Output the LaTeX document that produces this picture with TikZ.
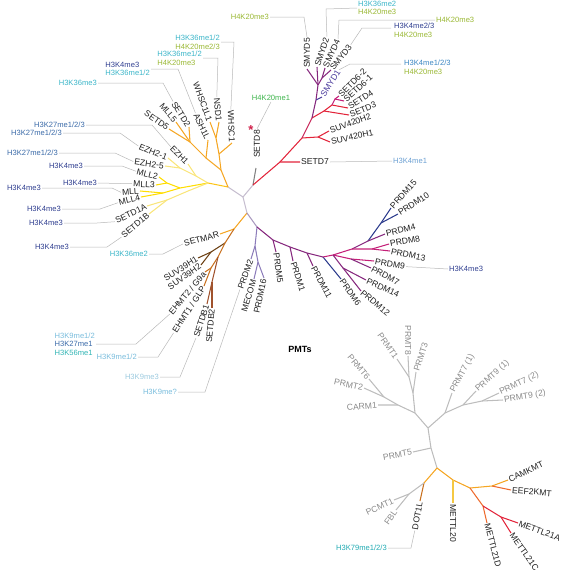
\documentclass[tikz,border=0pt]{standalone}
\usepackage{fontspec}
\setmainfont{Liberation Sans}
\definecolor{rootc}{HTML}{C6BECF}
\definecolor{orng}{HTML}{F5A623}
\definecolor{yor}{HTML}{FCC419}
\definecolor{yel}{HTML}{FFDD00}
\definecolor{lyel}{HTML}{F9E57A}
\definecolor{brn}{HTML}{6B3F12}
\definecolor{dorng}{HTML}{C8701E}
\definecolor{sienna}{HTML}{A0522D}
\definecolor{redc}{HTML}{E2243A}
\definecolor{crim}{HTML}{C8285A}
\definecolor{purp}{HTML}{86287E}
\definecolor{mag}{HTML}{C42078}
\definecolor{navy}{HTML}{2B3A8C}
\definecolor{lav}{HTML}{8C7CBA}
\definecolor{pgl}{HTML}{A898BE}
\definecolor{pgray}{HTML}{BDBDBD}
\definecolor{ltxt}{HTML}{8A8A8A}
\definecolor{ldc}{HTML}{B8B8B8}
\definecolor{mttl}{HTML}{F5C842}
\definecolor{orred}{HTML}{EE6A2C}
\definecolor{kfour}{HTML}{2E3D8F}
\definecolor{ktwsev}{HTML}{3A6AA8}
\definecolor{kthsix}{HTML}{3AB5C8}
\definecolor{ktwenty}{HTML}{9AB834}
\definecolor{knine}{HTML}{78BCDC}
\definecolor{kninec}{HTML}{9CCADF}
\definecolor{kfsix}{HTML}{30B4B4}
\definecolor{ksevnine}{HTML}{20AAB2}
\definecolor{kfourone}{HTML}{6A9FD2}
\definecolor{kfourall}{HTML}{3A86C2}
\definecolor{kmeone}{HTML}{3CB44A}
\definecolor{smydc}{HTML}{4A3A9C}
\definecolor{starc}{HTML}{D0204A}
\begin{document}
\begin{tikzpicture}[x=1pt,y=-1pt,
  leaf/.style={font=\fontsize{8.6}{10}\selectfont, inner sep=1pt, text=black!88},
  gleaf/.style={leaf, text=ltxt},
  ann/.style={font=\fontsize{7.6}{8.6}\selectfont, inner sep=1pt, align=left},
  br/.style={line width=1.05pt},
  ld/.style={draw=ldc, line width=0.5pt}]
\useasboundingbox (0,0) rectangle (567,574);

% ---------- backbone
\coordinate (R) at (243,197);
\coordinate (A) at (228,187);
\coordinate (B) at (253,185);
\coordinate (C) at (247,213);
\draw[br,rootc] (A) -- (R) -- (B);
\draw[br,rootc] (R) -- (C);

% ---------- yellow clade
\coordinate (Y1) at (208,183);
\coordinate (E0) at (196,176);
\coordinate (E1) at (180,168);
\coordinate (M0) at (180,188);
\coordinate (M1) at (167,183);
\coordinate (M2) at (163,193);
\coordinate (S0) at (188,191);
\coordinate (S1) at (167,200);
\coordinate (lEZHa) at (188,164);
\coordinate (lEZHb) at (168,158);
\coordinate (lEZHc) at (165,166);
\coordinate (lMLLb) at (159,177);
\coordinate (lMLLc) at (156,185);
\coordinate (lMLL) at (140,191);
\coordinate (lMLLd) at (141,197);
\coordinate (lSDa) at (147,206);
\coordinate (lSDb) at (149,214);
\draw[br,yor] (A) -- (Y1);
\draw[br,lyel] (Y1) -- (E0) -- (lEZHa);
\draw[br,lyel] (E0) -- (E1) -- (lEZHb);
\draw[br,lyel] (E1) -- (lEZHc);
\draw[br,yel] (Y1) -- (M0) -- (M1) -- (lMLLb);
\draw[br,yel] (M1) -- (lMLLc);
\draw[br,yel] (M0) -- (M2) -- (lMLL);
\draw[br,yel] (M2) -- (lMLLd);
\draw[br,lyel] (Y1) -- (S0) -- (S1) -- (lSDa);
\draw[br,lyel] (S1) -- (lSDb);

% ---------- orange clade
\coordinate (O0) at (221,170);
\coordinate (O1) at (219,154);
\coordinate (N0) at (216,138);
\coordinate (S2) at (206,158);
\coordinate (S3) at (190,142);
\coordinate (lWHSC) at (232,143);
\coordinate (lNSD) at (219,122);
\coordinate (lWHSCL) at (210,122);
\coordinate (lASH) at (208,140);
\coordinate (lSETDb) at (189,127);
\coordinate (lMLLe) at (176,122);
\coordinate (lSETDe) at (169,129);
\draw[br,orng] (A) -- (O0) -- (O1) -- (N0) -- (lNSD);
\draw[br,orng] (N0) -- (lWHSCL);
\draw[br,orng] (O1) -- (lWHSC);
\draw[br,orng] (O0) -- (S2) -- (lASH);
\draw[br,orng] (S2) -- (S3) -- (lSETDb);
\draw[br,orng] (S3) -- (lMLLe);
\draw[br,orng] (S3) -- (lSETDe);

% labels upper-left
\node[leaf,rotate=-45,anchor=east] (nEZHa) at (lEZHa) {EZH1};
\node[leaf,rotate=-22,anchor=east] (nEZHb) at (lEZHb) {EZH2-1};
\node[leaf,rotate=-8,anchor=east] (nEZHc) at (lEZHc) {EZH2-5};
\node[leaf,rotate=-14,anchor=east] (nMLLb) at (lMLLb) {MLL2};
\node[leaf,rotate=-3,anchor=east] (nMLLc) at (lMLLc) {MLL3};
\node[leaf,rotate=4,anchor=east] (nMLL) at (lMLL) {MLL};
\node[leaf,rotate=14,anchor=east] (nMLLd) at (lMLLd) {MLL4};
\node[leaf,rotate=26,anchor=east] (nSDa) at (lSDa) {SETD1A};
\node[leaf,rotate=40,anchor=east] (nSDb) at (lSDb) {SETD1B};
\node[leaf,rotate=-88,anchor=east] (nWHSC) at (lWHSC) {WHSC1};
\node[leaf,rotate=-85,anchor=east] (nNSD) at (lNSD) {NSD1};
\node[leaf,rotate=-70,anchor=east] (nWHSCL) at (lWHSCL) {WHSC1L1};
\node[leaf,rotate=-65,anchor=east] (nASH) at (lASH) {ASH1L};
\node[leaf,rotate=-58,anchor=east] (nSETDb) at (lSETDb) {SETD2};
\node[leaf,rotate=-50,anchor=east] (nMLLe) at (lMLLe) {MLL5};
\node[leaf,rotate=-35,anchor=east] (nSETDe) at (lSETDe) {SETD5};

% annotations upper-left
\node[ann,anchor=east] (aWHSC) at (221,42) {\textcolor{kthsix}{H3K36me1/2}\\\textcolor{ktwenty}{H4K20me2/3}};
\draw[ld] (nWHSC.west) -- (234,42) -- (aWHSC.east);
\node[ann,anchor=east] (aNSD) at (203,58) {\textcolor{kthsix}{H3K36me1/2}\\\textcolor{ktwenty}{H4K20me3}};
\draw[ld] (nNSD.west) -- (218,58) -- (aNSD.east);
\node[ann,anchor=east] (aASH) at (151,69) {\textcolor{kfour}{H3K4me3}\\\textcolor{kthsix}{H3K36me1/2}};
\draw[ld] (nASH.west) -- (178,69) -- (aASH.east);
\node[ann,anchor=east,text=kthsix] (aSETDb) at (98,83) {H3K36me3};
\draw[ld] (nSETDb.west) -- (163,83) -- (aSETDb.east);
\node[ann,anchor=east,text=ktwsev] (aEZHa) at (86,125) {H3K27me1/2/3};
\draw[ld] (nEZHa.west) -- (152,125) -- (aEZHa.east);
\node[ann,anchor=east,text=ktwsev] (aEZHb) at (63,133) {H3K27me1/2/3};
\draw[ld] (nEZHb.west) -- (120,133) -- (aEZHb.east);
\node[ann,anchor=east,text=ktwsev] (aEZHc) at (59,153) {H3K27me1/2/3};
\draw[ld] (nEZHc.west) -- (115,153) -- (aEZHc.east);
\node[ann,anchor=east,text=kfour] (aMLLb) at (84,166) {H3K4me3};
\draw[ld] (nMLLb.west) -- (122,166) -- (aMLLb.east);
\node[ann,anchor=east,text=kfour] (aMLLc) at (98,183) {H3K4me3};
\draw[ld] (nMLLc.west) -- (aMLLc.east);
\node[ann,anchor=east,text=kfour] (aMLL) at (42,188) {H3K4me3};
\draw[ld] (nMLL.west) -- (112,188) -- (aMLL.east);
\node[ann,anchor=east,text=kfour] (aMLLd) at (62,209) {H3K4me3};
\draw[ld] (nMLLd.west) -- (100,209) -- (aMLLd.east);
\node[ann,anchor=east,text=kfour] (aSDa) at (64,223) {H3K4me3};
\draw[ld] (nSDa.west) -- (97,223) -- (aSDa.east);
\node[ann,anchor=east,text=kfour] (aSDb) at (70,247) {H3K4me3};
\draw[ld] (nSDb.west) -- (107,247) -- (aSDb.east);

% ---------- lower-left orange / brown clade
\coordinate (K1) at (234,229);
\coordinate (K2) at (225,243);
\coordinate (K3) at (211,252);
\coordinate (K4) at (218,257);
\coordinate (K5) at (211,268);
\coordinate (K6) at (212,282);
\coordinate (lSETMAR) at (220,234);
\coordinate (lSUVa) at (198,258);
\coordinate (lSUVb) at (201,265);
\coordinate (lEHa) at (205,272);
\coordinate (lEHb) at (204,286);
\coordinate (lSDBa) at (207,304);
\coordinate (lSDBb) at (212,308);
\draw[br,orng] (C) -- (K1) -- (lSETMAR);
\draw[br,dorng] (K1) -- (K2);
\draw[br,brn] (K2) -- (K3) -- (lSUVa);
\draw[br,brn] (K3) -- (lSUVb);
\draw[br,dorng] (K2) -- (K4) -- (K5) -- (lEHa);
\draw[br,dorng] (K5) -- (lEHb);
\draw[br,sienna] (K4) -- (K6) -- (lSDBa);
\draw[br,sienna] (K6) -- (lSDBb);
\node[leaf,rotate=15,anchor=east] (nSETMAR) at (lSETMAR) {SETMAR};
\node[leaf,rotate=32,anchor=east] (nSUVa) at (lSUVa) {SUV39H1};
\node[leaf,rotate=35,anchor=east] (nSUVb) at (lSUVb) {SUV39H2};
\node[leaf,rotate=50,anchor=east] (nEHa) at (lEHa) {EHMT2 / G9a};
\node[leaf,rotate=57,anchor=east] (nEHb) at (lEHb) {EHMT1 / GLP};
\node[leaf,rotate=72,anchor=east] (nSDBa) at (lSDBa) {SETDB1};
\node[leaf,rotate=85,anchor=east] (nSDBb) at (lSDBb) {SETDB2};
\node[ann,anchor=east,text=kthsix] (aSETMAR) at (149,254) {H3K36me2};
\draw[ld] (nSETMAR.west) -- (163,254) -- (aSETMAR.east);
\node[ann,anchor=east] (aEHa) at (96,344) {\textcolor{knine}{H3K9me1/2}\\\textcolor{ktwsev}{H3K27me1}\\\textcolor{kfsix}{H3K56me1}};
\draw[ld] (nEHa.west) -- (136,344) -- (aEHa.east);
\node[ann,anchor=east,text=knine] (aEHb) at (138,357) {H3K9me1/2};
\draw[ld] (nEHb.west) -- (158,357) -- (aEHb.east);
\node[ann,anchor=east,text=kninec] (aSDBa) at (160,377) {H3K9me3};
\draw[ld] (nSDBa.west) -- (180,377) -- (aSDBa.east);

% ---------- PRDM clade
\coordinate (P0) at (257,227);
\coordinate (PL) at (255,246);
\coordinate (PM) at (258,262);
\coordinate (Pa) at (273,240);
\coordinate (Pb) at (290,247);
\coordinate (Pc) at (307,253);
\coordinate (Pd) at (323,257);
\coordinate (Q0) at (333,255);
\coordinate (Q1) at (352,249);
\coordinate (Q2) at (368,241);
\coordinate (Q3) at (381,223);
\coordinate (Q4) at (372,249);
\coordinate (Q5) at (351,259);
\coordinate (Q6) at (343,268);
\coordinate (lPRa) at (251,259);
\coordinate (lMECOM) at (254,279);
\coordinate (lPRp) at (264,278);
\coordinate (lPRe) at (276,252);
\coordinate (lPRb) at (293,261);
\coordinate (lPRk) at (313,266);
\coordinate (lPRf) at (341,279);
\coordinate (lPRo) at (391,208);
\coordinate (lPRj) at (398,214);
\coordinate (lPRd) at (385,234);
\coordinate (lPRh) at (389,244);
\coordinate (lPRm) at (390,251);
\coordinate (lPRi) at (374,261);
\coordinate (lPRg) at (371,268);
\coordinate (lPRn) at (366,280);
\coordinate (lPRl) at (361,291);
\draw[br,pgl] (C) -- (P0);
\draw[br,lav] (P0) -- (PL) -- (lPRa);
\draw[br,lav] (PL) -- (PM) -- (lMECOM);
\draw[br,lav] (PM) -- (lPRp);
\draw[br,purp] (P0) -- (Pa) -- (Pb) -- (Pc) -- (Pd);
\draw[br,purp] (Pa) -- (lPRe);
\draw[br,purp] (Pb) -- (lPRb);
\draw[br,purp] (Pc) -- (lPRk);
\draw[br,navy] (Pd) -- (lPRf);
\draw[br,mag] (Pd) -- (Q0) -- (Q1);
\draw[br,purp] (Q1) -- (Q2);
\draw[br,navy] (Q2) -- (Q3) -- (lPRo);
\draw[br,navy] (Q3) -- (lPRj);
\draw[br,purp] (Q2) -- (lPRd);
\draw[br,mag] (Q1) -- (Q4) -- (lPRh);
\draw[br,mag] (Q4) -- (lPRm);
\draw[br,mag] (Q0) -- (Q5) -- (lPRi);
\draw[br,purp] (Q5) -- (lPRg);
\draw[br,purp] (Q0) -- (Q6) -- (lPRn);
\draw[br,purp] (Q6) -- (lPRl);
\node[leaf,rotate=70,anchor=east] (nPRa) at (lPRa) {PRDM2};
\node[leaf,rotate=73,anchor=east] (nMECOM) at (lMECOM) {MECOM};
\node[leaf,rotate=78,anchor=east] (nPRp) at (lPRp) {PRDM16};
\node[leaf,rotate=-82,anchor=west] (nPRe) at (lPRe) {PRDM5};
\node[leaf,rotate=-72,anchor=west] (nPRb) at (lPRb) {PRDM1};
\node[leaf,rotate=-62,anchor=west] (nPRk) at (lPRk) {PRDM11};
\node[leaf,rotate=-55,anchor=west] (nPRf) at (lPRf) {PRDM6};
\node[leaf,rotate=-40,anchor=west] (nPRl) at (lPRl) {PRDM12};
\node[leaf,rotate=-25,anchor=west] (nPRn) at (lPRn) {PRDM14};
\node[leaf,rotate=-28,anchor=west] (nPRg) at (lPRg) {PRDM7};
\node[leaf,rotate=-10,anchor=west] (nPRi) at (lPRi) {PRDM9};
\node[leaf,rotate=-12,anchor=west] (nPRm) at (lPRm) {PRDM13};
\node[leaf,rotate=10,anchor=west] (nPRh) at (lPRh) {PRDM8};
\node[leaf,rotate=14,anchor=west] (nPRd) at (lPRd) {PRDM4};
\node[leaf,rotate=33,anchor=west] (nPRj) at (lPRj) {PRDM10};
\node[leaf,rotate=48,anchor=west] (nPRo) at (lPRo) {PRDM15};
\node[ann,anchor=west,text=kfour] (aPRi) at (448,269) {H3K4me3};
\draw[ld] (nPRi.east) -- (aPRi.west);
\node[ann,anchor=east,text=knine] (aPRa) at (178,392) {H3K9me?};
\draw[ld] (nPRa.west) -- (205,392) -- (aPRa.east);

% ---------- SET (red) clade
\coordinate (r1) at (280,162);
\coordinate (r2) at (302,138);
\coordinate (s4) at (318,137);
\coordinate (r3) at (312,118);
\coordinate (t0) at (324,111);
\coordinate (t1) at (332,105);
\coordinate (t2) at (335,99);
\coordinate (u0) at (316,100);
\coordinate (u1) at (318,85);
\coordinate (u2) at (322,78);
\coordinate (lSETDh) at (256,168);
\coordinate (lSETDg) at (300,162);
\coordinate (lSUVc) at (329,131);
\coordinate (lSUVd) at (330,142);
\coordinate (lSDc) at (349,115);
\coordinate (lSDd) at (348,108);
\coordinate (lSDfa) at (344,101);
\coordinate (lSDfb) at (339,96);
\coordinate (lSMa) at (322,97);
\coordinate (lSMe) at (307,69);
\coordinate (lSMb) at (317,67);
\coordinate (lSMd) at (325,68);
\coordinate (lSMc) at (331,70);
\draw[br,gray] (B) -- (lSETDh);
\draw[br,redc] (B) -- (r1) -- (lSETDg);
\draw[br,redc] (r1) -- (r2) -- (s4) -- (lSUVc);
\draw[br,redc] (s4) -- (lSUVd);
\draw[br,crim] (r2) -- (r3);
\draw[br,redc] (r3) -- (t0) -- (lSDc);
\draw[br,redc] (t0) -- (t1) -- (lSDd);
\draw[br,mag] (t1) -- (t2) -- (lSDfa);
\draw[br,mag] (t2) -- (lSDfb);
\draw[br,purp] (r3) -- (u0) -- (u1) -- (u2) -- (lSMd);
\draw[br,smydc] (u0) -- (lSMa);
\draw[br,purp] (u1) -- (lSMe);
\draw[br,purp] (u1) -- (lSMb);
\draw[br,purp] (u2) -- (lSMc);
\node[leaf,rotate=90,anchor=west] (nSETDh) at (257,159) {SETD8};
\node[text=starc,font=\fontsize{13}{13}\selectfont\bfseries,inner sep=0pt] (star) at (251,130) {*};
\node[ann,text=kmeone,inner sep=1pt] (aSETDh) at (271,98) {H4K20me1};
\draw[ld] (nSETDh.east) -- (aSETDh.south);
\node[leaf,anchor=west] (nSETDg) at (lSETDg) {SETD7};
\node[ann,anchor=west,text=kfourone] (aSETDg) at (392,161) {H3K4me1};
\draw[ld] (nSETDg.east) -- (aSETDg.west);
\node[leaf,rotate=20,anchor=west] (nSUVc) at (lSUVc) {SUV420H2};
\node[leaf,rotate=12,anchor=west] (nSUVd) at (lSUVd) {SUV420H1};
\node[leaf,rotate=22,anchor=west] (nSDc) at (lSDc) {SETD3};
\node[leaf,rotate=33,anchor=west] (nSDd) at (lSDd) {SETD4};
\node[leaf,rotate=42,anchor=west] (nSDfa) at (lSDfa) {SETD6-1};
\node[leaf,rotate=45,anchor=west] (nSDfb) at (lSDfb) {SETD6-2};
\node[leaf,rotate=58,anchor=west,text=smydc] (nSMa) at (lSMa) {SMYD1};
\node[leaf,rotate=90,anchor=west] (nSMe) at (lSMe) {SMYD5};
\node[leaf,rotate=72,anchor=west] (nSMb) at (lSMb) {SMYD2};
\node[leaf,rotate=66,anchor=west] (nSMd) at (lSMd) {SMYD4};
\node[leaf,rotate=52,anchor=west] (nSMc) at (lSMc) {SMYD3};
\node[ann,anchor=east,text=ktwenty] (aSMe) at (270,17) {H4K20me3};
\draw[ld] (nSMe.east) -- (304,17) -- (aSMe.east);
\node[ann,anchor=west] (aSMb) at (357,8) {\textcolor{kthsix}{H3K36me2}\\\textcolor{ktwenty}{H4K20me3}};
\draw[ld] (nSMb.east) -- (326,9) -- (aSMb.west);
\node[ann,anchor=west,text=ktwenty] (aSMd) at (435,20) {H4K20me3};
\draw[ld] (nSMd.east) -- (339,20) -- (aSMd.west);
\node[ann,anchor=west] (aSMc) at (393,30) {\textcolor{kfour}{H3K4me2/3}\\\textcolor{ktwenty}{H4K20me3}};
\draw[ld] (nSMc.east) -- (362,28) -- (391,28);
\node[ann,anchor=west] (aSMa) at (403,67) {\textcolor{kfourall}{H3K4me1/2/3}\\\textcolor{ktwenty}{H4K20me3}};
\draw[ld] (nSMa.east) -- (350,64) -- (401,64);

% ---------- PMTs (gray)
\node[font=\fontsize{9}{10}\selectfont\bfseries] (pmt) at (300,349) {PMTs};
\coordinate (T0) at (437,468);
\coordinate (g1) at (431,448);
\coordinate (G1) at (428,428);
\coordinate (GL) at (415,413);
\coordinate (GR) at (445,413);
\coordinate (G2) at (413,393);
\coordinate (G3) at (409,377);
\coordinate (G5) at (398,405);
\coordinate (G4) at (384,397);
\coordinate (G6) at (463,405);
\coordinate (G7) at (482,401);
\coordinate (lPTe) at (413,452);
\coordinate (lPTh) at (408,356);
\coordinate (lPTa) at (397,359);
\coordinate (lPTc) at (416,372);
\coordinate (lCARM) at (378,405);
\coordinate (lPTf) at (369,379);
\coordinate (lPTb) at (364,388);
\coordinate (lPTga) at (452,393);
\coordinate (lPTia) at (476,391);
\coordinate (lPTgb) at (499,393);
\coordinate (lPTib) at (503,400);
\draw[br,pgray] (T0) -- (g1) -- (G1) -- (GL) -- (G2) -- (G3) -- (lPTh);
\draw[br,pgray] (g1) -- (lPTe);
\draw[br,pgray] (G3) -- (lPTa);
\draw[br,pgray] (G2) -- (lPTc);
\draw[br,pgray] (GL) -- (G5) -- (lCARM);
\draw[br,pgray] (G5) -- (G4) -- (lPTf);
\draw[br,pgray] (G4) -- (lPTb);
\draw[br,pgray] (G1) -- (GR) -- (lPTga);
\draw[br,pgray] (GR) -- (G6) -- (lPTia);
\draw[br,pgray] (G6) -- (G7) -- (lPTgb);
\draw[br,pgray] (G7) -- (lPTib);
\node[gleaf,rotate=10,anchor=east] (nPTe) at (lPTe) {PRMT5};
\node[gleaf,rotate=-90,anchor=east] (nPTh) at (lPTh) {PRMT8};
\node[gleaf,rotate=-55,anchor=east] (nPTa) at (lPTa) {PRMT1};
\node[gleaf,rotate=72,anchor=west] (nPTc) at (lPTc) {PRMT3};
\node[gleaf,rotate=5,anchor=east] (nCARM) at (lCARM) {CARM1};
\node[gleaf,rotate=-50,anchor=east] (nPTf) at (lPTf) {PRMT6};
\node[gleaf,rotate=-12,anchor=east] (nPTb) at (lPTb) {PRMT2};
\node[gleaf,rotate=62,anchor=west] (nPTga) at (lPTga) {PRMT7 (1)};
\node[gleaf,rotate=42,anchor=west] (nPTia) at (lPTia) {PRMT9 (1)};
\node[gleaf,rotate=25,anchor=west] (nPTgb) at (lPTgb) {PRMT7 (2)};
\node[gleaf,rotate=9,anchor=west] (nPTib) at (lPTib) {PRMT9 (2)};

% ---------- 7BS clade
\coordinate (T1) at (424,483);
\coordinate (T2) at (409,494);
\coordinate (T3) at (453,480);
\coordinate (T4) at (470,488);
\coordinate (T5) at (492,486);
\coordinate (T6) at (483,506);
\coordinate (T7) at (501,517);
\coordinate (lDOT) at (420,501);
\coordinate (lPCMT) at (394,500);
\coordinate (lFBL) at (396,510);
\coordinate (lMTa) at (453,503);
\coordinate (lCAM) at (508,480);
\coordinate (lEEF) at (511,490);
\coordinate (lMTd) at (487,523);
\coordinate (lMTb) at (518,523);
\coordinate (lMTc) at (511,533);
\draw[br,orng] (T0) -- (T1);
\draw[br,dorng] (T1) -- (lDOT);
\draw[br,pgray] (T1) -- (T2) -- (lPCMT);
\draw[br,pgray] (T2) -- (lFBL);
\draw[br,orng] (T0) -- (T3) -- (T4) -- (T5) -- (lCAM);
\draw[br,mttl] (T3) -- (lMTa);
\draw[br,orred] (T5) -- (lEEF);
\draw[br,orred] (T4) -- (T6) -- (lMTd);
\draw[br,redc] (T6) -- (T7) -- (lMTb);
\draw[br,redc] (T7) -- (lMTc);
\node[leaf,rotate=80,anchor=east] (nDOT) at (lDOT) {DOT1L};
\node[gleaf,rotate=25,anchor=east] (nPCMT) at (lPCMT) {PCMT1};
\node[gleaf,rotate=55,anchor=east] (nFBL) at (lFBL) {FBL};
\node[leaf,rotate=-90,anchor=west] (nMTa) at (lMTa) {METTL20};
\node[leaf,rotate=25,anchor=west] (nCAM) at (lCAM) {CAMKMT};
\node[leaf,rotate=-5,anchor=west] (nEEF) at (lEEF) {EEF2KMT};
\node[leaf,rotate=-75,anchor=west] (nMTd) at (lMTd) {METTL21D};
\node[leaf,rotate=-20,anchor=west] (nMTb) at (lMTb) {METTL21A};
\node[leaf,rotate=-55,anchor=west] (nMTc) at (lMTc) {METTL21C};
\node[ann,anchor=east,text=ksevnine] (aDOT) at (388,548) {H3K79me1/2/3};
\draw[ld] (nDOT.west) -- (411,548) -- (aDOT.east);
\end{tikzpicture}
\end{document}
